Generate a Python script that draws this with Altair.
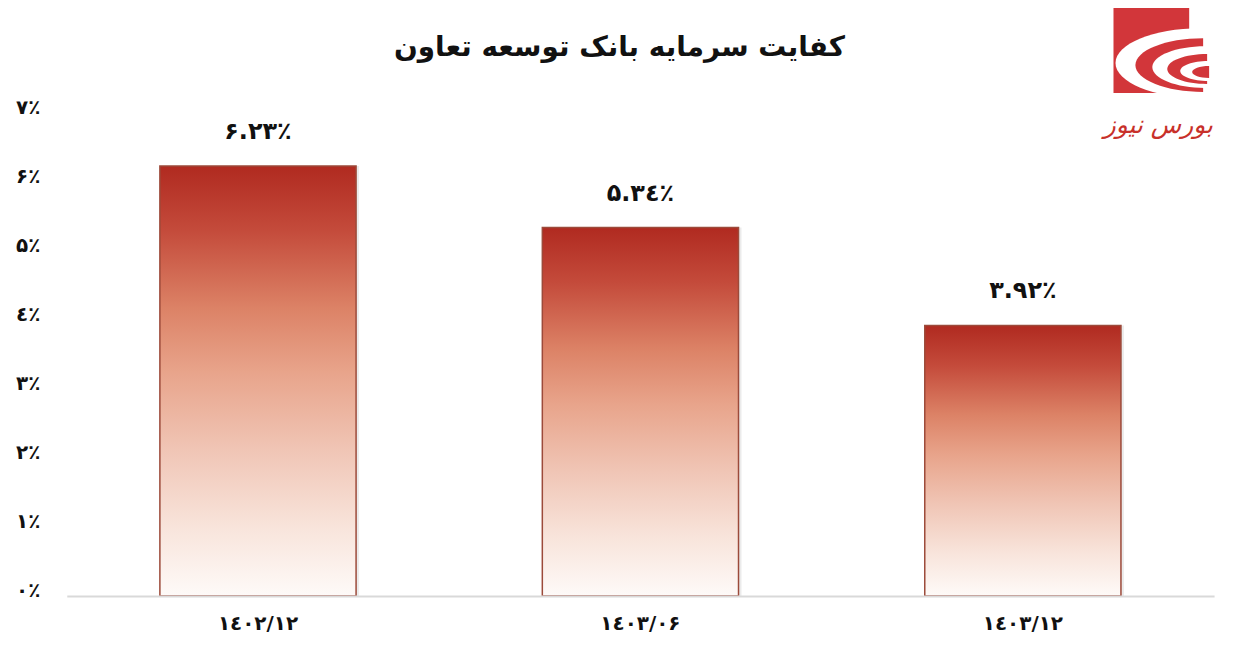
import altair as alt
import pandas as pd

# ---- data ----
categories = ["۱٤۰۲/۱۲", "۱٤۰۳/۰۶", "۱٤۰۳/۱۲"]
values = [6.23, 5.34, 3.92]
value_labels = ["۶.۲۳٪", "۵.۳٤٪", "۳.۹۲٪"]
y_ticks = [0, 1, 2, 3, 4, 5, 6, 7]
y_tick_labels = ["۰٪", "۱٪", "۲٪", "۳٪", "٤٪", "۵٪", "۶٪", "۷٪"]
title_text = "کفایت سرمایه بانک توسعه تعاون"
logo_text = "بورس نیوز"

df = pd.DataFrame({"cat": categories, "val": values, "lab": value_labels})
one = pd.DataFrame({"k": [0]})

FONT = "DejaVu Sans"
label_expr = "[" + ",".join("'%s'" % s for s in y_tick_labels) + "][datum.value]"

grad = alt.Gradient(
    gradient="linear",
    stops=[
        alt.GradientStop(color="#B02A20", offset=0),
        alt.GradientStop(color="#C44B3B", offset=0.15),
        alt.GradientStop(color="#DC8266", offset=0.33),
        alt.GradientStop(color="#E8A48B", offset=0.48),
        alt.GradientStop(color="#F0C5B5", offset=0.66),
        alt.GradientStop(color="#F8E4DB", offset=0.84),
        alt.GradientStop(color="#FEFAF8", offset=1),
    ],
    x1=0, x2=0, y1=0, y2=1,
)

x = alt.X(
    "cat:N", sort=categories, title=None,
    scale=alt.Scale(paddingInner=0.487, paddingOuter=0.2435),
    axis=alt.Axis(labelAngle=0, labelFont=FONT, labelFontSize=20, labelFontWeight="bold",
                  labelColor="#111111", labelPadding=18, ticks=False, zindex=1,
                  domainColor="#D9D9D9", domainWidth=2),
)
y = alt.Y(
    "val:Q", title=None,
    scale=alt.Scale(domain=[0, 7], nice=False),
    axis=alt.Axis(values=y_ticks, labelExpr=label_expr, grid=False, domain=False, ticks=False,
                  labelPadding=27, labelFont=FONT, labelFontSize=20, labelFontWeight="bold",
                  labelColor="#111111", labelOffset=-5),
)

base = alt.Chart(df)
shadow = base.mark_bar(color="#9a9a9a", opacity=0.2, xOffset=3).encode(x=x, y=y)
bars = base.mark_bar(fill=grad, stroke="#9C4A3A", strokeWidth=1.5).encode(x=x, y=y)
texts = base.mark_text(font=FONT, fontSize=24, fontWeight="bold", color="#111111",
                       baseline="alphabetic", dy=-27).encode(x=x, y=y, text="lab:N")

title = alt.Chart(one).mark_text(font=FONT, fontSize=28, fontWeight="bold", color="#111111",
                                 baseline="middle", align="center", text=title_text).encode(
    x=alt.value(555), y=alt.value(-65))

# ---- logo (decoration) ----
LOGO_RED = "#D2363A"
AX, AY, S = 1160, 50, 100.0  # anchor (page px) and px per path unit


def _p(X, Y):
    return "%.4f,%.4f" % ((X - AX) / S, (Y - AY) / S)


def half_ellipse(cx, cy, rx, ry):
    k = 0.5523
    return ("M %s C %s %s %s C %s %s %s Z" % (
        _p(cx, cy - ry), _p(cx - k * rx, cy - ry), _p(cx - rx, cy - k * ry), _p(cx - rx, cy),
        _p(cx - rx, cy + k * ry), _p(cx - k * rx, cy + ry), _p(cx, cy + ry)))


logo_sq = alt.Chart(one).mark_rect(color=LOGO_RED).encode(
    x=alt.value(1051), x2=alt.value(1127), y=alt.value(-110), y2=alt.value(-20))
ellipses = [
    (1205, 62, 85, 35, "#FFFFFF"),
    (1208, 64, 68, 27, LOGO_RED),
    (1210, 66, 53, 21, "#FFFFFF"),
    (1212, 68, 40, 15, LOGO_RED),
    (1213, 70, 28, 10, "#FFFFFF"),
    (1214, 71, 17, 6, LOGO_RED),
]
logo_shapes = []
for cx, cy, rx, ry, c in ellipses:
    logo_shapes.append(
        alt.Chart(one).mark_point(shape=half_ellipse(cx, cy, rx, ry), filled=True, fill=c,
                                  fillOpacity=1, strokeWidth=0, size=(2 * S) ** 2).encode(
            x=alt.value(AX - 67), y=alt.value(AY - 112))
    )
logo_txt = alt.Chart(one).mark_text(font=FONT, fontSize=25, fontStyle="italic", color="#C8302A",
                                    text=logo_text).encode(x=alt.value(1096), y=alt.value(12))

chart = alt.layer(
    shadow, bars, texts, title, logo_sq, *logo_shapes, logo_txt
).properties(
    width=1152, height=485,
    autosize=alt.AutoSizeParams(type="none"),
    padding={"left": 59, "top": 104, "right": 20, "bottom": 40},
    background="white",
).configure_view(stroke=None)

chart.save("out.html", embed_options={"renderer": "svg", "actions": False})
